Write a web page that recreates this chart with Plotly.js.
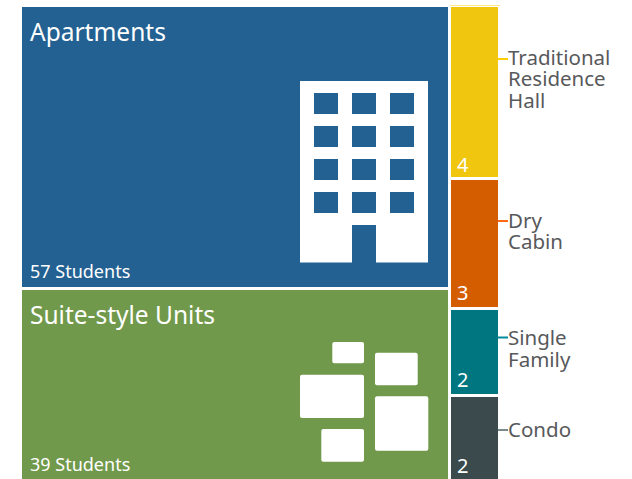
<!DOCTYPE html>
<html><head><meta charset="utf-8">
<script src="https://cdn.plot.ly/plotly-3.0.1.min.js"></script>
<style>html,body{margin:0;padding:0;background:#fff;overflow:hidden}</style>
</head><body><div id="chart" style="width:632px;height:479px"></div>
<script>
// Data
const leftCategories = ["Apartments", "Suite-style Units"];
const leftValues = [57, 39];
const rightCategories = ["Traditional Residence Hall", "Dry Cabin", "Single Family", "Condo"];
const rightValues = [4, 3, 2, 2];
const rightLabelLines = [["Traditional", "Residence", "Hall"], ["Dry", "Cabin"], ["Single", "Family"], ["Condo"]];
const leftColors = ["#236192", "#71994B"];
const rightColors = ["#F1C60E", "#D45D00", "#007680", "#3A4A4D"];
const leaderColors = ["#FFCD00", "#FF6A13", "#00899A", "#7B8A8D"];

const W = 632, H = 479, mL = 20, mR = 132, mT = 5, mB = 0;
const pw = W - mL - mR, ph = H - mT - mB;
const FONT = '"Noto Sans", sans-serif';
const px = x => (x - mL) / pw;
const py = y => 1 - (y - mT) / ph;

const leftTotal = leftValues.reduce((a, b) => a + b, 0);
const rightTotal = rightValues.reduce((a, b) => a + b, 0);
const grand = leftTotal + rightTotal;

function column(cats, vals, cols, center, width, total) {
  // stacked bottom-up, so reverse to keep first category on top
  return cats.map((c, i) => i).reverse().map(i => ({
    type: 'bar', name: cats[i], x: [center], y: [vals[i] / total], width: [width],
    marker: {color: cols[i], line: {color: '#fff', width: 3}},
    hoverinfo: 'name', showlegend: false
  }));
}
const traces = [
  ...column(leftCategories, leftValues, leftColors, leftTotal / 2, leftTotal, leftTotal),
  ...column(rightCategories, rightValues, rightColors, leftTotal + rightTotal / 2, rightTotal, rightTotal)
];

function note(text, x, y, size, color, font) {
  return {text, xref: 'paper', yref: 'paper', x: px(x), y: py(y), xanchor: 'left', yanchor: 'middle',
    showarrow: false, borderpad: 0, borderwidth: 0, align: 'left',
    font: {family: font || FONT, size, color}};
}
const annotations = [];
const small = n => `${n} <span style="font-size:18px">Students</span>`;
annotations.push(note(leftCategories[0], 30, 31, 24.5, '#fff'));
annotations.push(note(small(leftValues[0]), 30, 271, 18, '#fff'));
annotations.push(note(leftCategories[1], 30, 314, 24.5, '#fff'));
annotations.push(note(small(leftValues[1]), 30, 464, 18, '#fff'));
const valueY = [164, 292, 379, 465.5];
rightValues.forEach((v, i) => annotations.push(note(String(v), 456.5, valueY[i], 20, '#fff')));
const labelY = [[57, 78, 100], [220, 241], [337, 359], [429]];
rightLabelLines.forEach((lines, i) => lines.forEach((t, j) =>
  annotations.push(note(t, 507.5, labelY[i][j], 20.5, '#58595B'))));

function rect(x0, y0, x1, y1, fill) {
  return {type: 'rect', xref: 'paper', yref: 'paper', x0: px(x0), x1: px(x1), y0: py(y0), y1: py(y1),
    fillcolor: fill, line: {width: 0}, layer: 'above'};
}
function rrect(x0, y0, x1, y1, r) {
  const X = px, Y = py;
  const p = `M${X(x0 + r)},${Y(y0)} L${X(x1 - r)},${Y(y0)} Q${X(x1)},${Y(y0)} ${X(x1)},${Y(y0 + r)} ` +
    `L${X(x1)},${Y(y1 - r)} Q${X(x1)},${Y(y1)} ${X(x1 - r)},${Y(y1)} L${X(x0 + r)},${Y(y1)} ` +
    `Q${X(x0)},${Y(y1)} ${X(x0)},${Y(y1 - r)} L${X(x0)},${Y(y0 + r)} Q${X(x0)},${Y(y0)} ${X(x0 + r)},${Y(y0)} Z`;
  return {type: 'path', xref: 'paper', yref: 'paper', path: p, fillcolor: '#fff', line: {width: 0}, layer: 'above'};
}
const shapes = [];
// building icon
shapes.push(rect(300, 81, 428, 262.5, '#fff'));
[93, 126, 159, 192].forEach(y => [314, 352, 390].forEach(x =>
  shapes.push(rect(x, y, x + 24, y + 21, leftColors[0]))));
shapes.push(rect(352, 225, 376, 263, leftColors[0]));
// suite icon
[[332.3, 342, 364, 363.3], [375, 352.7, 417.7, 385.3], [300, 374.7, 364, 418],
 [375, 396.3, 428.3, 450.7], [321.3, 429, 364, 461.7]].forEach(b =>
  shapes.push(rrect(b[0], b[1], b[2], b[3], 2)));
// leader lines
[59, 221, 337.5, 430].forEach((y, i) => shapes.push({type: 'line', xref: 'paper', yref: 'paper',
  x0: px(498), x1: px(508), y0: py(y), y1: py(y), line: {color: leaderColors[i], width: 2}, layer: 'above'}));
// faint top edge over the yellow tile
shapes.push({type: 'line', xref: 'paper', yref: 'paper', x0: px(450), x1: px(500), y0: py(5.5), y1: py(5.5),
  line: {color: '#FFE98A', width: 1}, layer: 'above'});

const layout = {
  width: W, height: H, margin: {l: mL, r: mR, t: mT, b: mB, pad: 0},
  paper_bgcolor: '#fff', plot_bgcolor: '#fff', barmode: 'stack', showlegend: false,
  xaxis: {range: [0, grand * 1.0016], visible: false, fixedrange: true},
  yaxis: {range: [0.0069, 1], visible: false, fixedrange: true},
  annotations, shapes
};
Plotly.newPlot('chart', traces, layout, {displayModeBar: false, staticPlot: true});
</script></body></html>
